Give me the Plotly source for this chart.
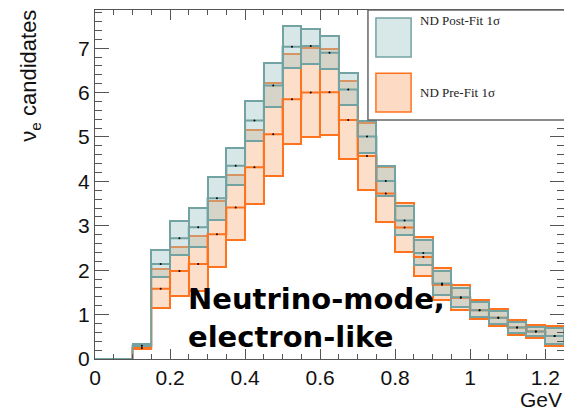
import numpy as np
import plotly.graph_objects as go

bin_lo = [0.00, 0.05, 0.10, 0.15, 0.20, 0.25, 0.30, 0.35, 0.40, 0.45, 0.50, 0.55,
          0.60, 0.65, 0.70, 0.75, 0.80, 0.85, 0.90, 0.95, 1.00, 1.05, 1.10, 1.15, 1.20]
bin_width = 0.05

post_lo = [0, 0, 0.27, 1.85, 2.34, 2.53, 3.13, 3.93, 4.92, 5.67, 6.56, 6.64,
           6.53, 5.72, 4.65, 3.67, 2.80, 2.12, 1.44, 1.18, 0.95, 0.79, 0.59, 0.52, 0.34]
post_c = [0, 0, 0.30, 2.14, 2.72, 2.97, 3.62, 4.35, 5.37, 6.16, 7.03, 7.05,
          6.90, 6.07, 5.01, 4.01, 3.12, 2.39, 1.70, 1.39, 1.10, 0.93, 0.71, 0.62, 0.52]
post_hi = [0, 0, 0.33, 2.45, 3.10, 3.40, 4.11, 4.75, 5.81, 6.66, 7.50, 7.43,
           7.28, 6.43, 5.36, 4.35, 3.45, 2.68, 1.99, 1.59, 1.28, 1.09, 0.84, 0.73, 0.69]

pre_lo = [0, 0, 0.22, 1.15, 1.42, 1.54, 2.08, 2.68, 3.49, 4.13, 4.84, 4.99,
          5.04, 4.50, 3.81, 3.09, 2.42, 1.87, 1.34, 1.10, 0.89, 0.74, 0.54, 0.47, 0.29]
pre_c = [0, 0, 0.25, 1.58, 1.98, 2.14, 2.81, 3.41, 4.32, 5.06, 5.85, 6.00,
         6.01, 5.38, 4.57, 3.73, 2.96, 2.30, 1.67, 1.38, 1.10, 0.93, 0.71, 0.62, 0.52]
pre_hi = [0, 0, 0.28, 2.03, 2.53, 2.77, 3.56, 4.14, 5.16, 6.21, 6.86, 7.00,
          6.98, 6.26, 5.32, 4.33, 3.51, 2.75, 2.04, 1.66, 1.33, 1.13, 0.88, 0.77, 0.74]

x_end = 1.25
x_ticks = [0, 0.2, 0.4, 0.6, 0.8, 1.0, 1.2]
x_tick_text = ["0", "0.2", "0.4", "0.6", "0.8", "1", "1.2"]
y_ticks = [0, 1, 2, 3, 4, 5, 6, 7]

lo = np.array(bin_lo)
centers = lo + bin_width / 2
step_x = list(bin_lo) + [x_end]

TEAL = "rgb(115,162,162)"
ORANGE = "rgb(255,115,30)"

fig = go.Figure()

# Pre-fit boxes
fig.add_trace(go.Bar(
    x=centers, base=pre_lo, y=np.array(pre_hi) - np.array(pre_lo), width=bin_width,
    marker=dict(color="rgba(252,218,195,0.95)",
                line=dict(color=ORANGE, width=2),
                pattern=dict(shape=".", fgcolor="rgba(240,165,120,0.55)",
                             bgcolor="rgba(253,224,204,0.95)", size=2, solidity=0.25)),
    showlegend=False, hoverinfo="skip"))
fig.add_trace(go.Scatter(x=step_x, y=list(pre_c) + [pre_c[-1]], mode="lines",
                         line=dict(color=ORANGE, width=2, shape="hv"),
                         showlegend=False, hoverinfo="skip"))

# Post-fit boxes
fig.add_trace(go.Bar(
    x=centers, base=post_lo, y=np.array(post_hi) - np.array(post_lo), width=bin_width,
    marker=dict(color="rgba(150,190,190,0.35)",
                line=dict(color=TEAL, width=2),
                pattern=dict(shape=".", fgcolor="rgba(110,155,155,0.45)",
                             bgcolor="rgba(165,200,200,0.38)", size=2, solidity=0.25)),
    showlegend=False, hoverinfo="skip"))
fig.add_trace(go.Scatter(x=step_x, y=list(post_c) + [post_c[-1]], mode="lines",
                         line=dict(color=TEAL, width=2, shape="hv"),
                         showlegend=False, hoverinfo="skip"))

# central black points
fig.add_trace(go.Scatter(x=centers[2:], y=post_c[2:], mode="markers",
                         marker=dict(color="black", size=2), showlegend=False, hoverinfo="skip"))
fig.add_trace(go.Scatter(x=centers[2:], y=pre_c[2:], mode="markers",
                         marker=dict(color="black", size=2), showlegend=False, hoverinfo="skip"))

AX = "#555555"
fig.update_layout(
    width=564, height=413,
    margin=dict(l=95, r=0, t=10, b=54),
    paper_bgcolor="white", plot_bgcolor="white",
    barmode="overlay", bargap=0,
    font=dict(family="Liberation Sans", size=21, color="#111"),
    xaxis=dict(range=[0, x_end], tickvals=x_ticks, ticktext=x_tick_text,
               ticks="inside", ticklen=10, tickcolor=AX, showline=True, linecolor=AX,
               linewidth=1, mirror="ticks", showgrid=False, zeroline=False,
               minor=dict(ticks="inside", ticklen=5, dtick=0.05, tickcolor=AX, showgrid=False),
               tickfont=dict(size=21)),
    yaxis=dict(range=[0, 7.86], tickvals=y_ticks,
               ticks="inside", ticklen=14, tickcolor=AX, showline=True, linecolor=AX,
               linewidth=1, mirror="ticks", showgrid=False, zeroline=False,
               minor=dict(ticks="inside", ticklen=7, dtick=0.2, tickcolor=AX, showgrid=False),
               tickfont=dict(size=21)),
)

# legend box
fig.add_shape(type="rect", xref="paper", yref="paper", x0=0.582, x1=1.05, y0=0.685, y1=1.0,
              fillcolor="white", line=dict(color="#666", width=1.5), layer="above")
fig.add_shape(type="rect", xref="paper", yref="paper", x0=0.599, x1=0.674, y0=0.865, y1=0.977,
              fillcolor="rgb(216,232,232)", line=dict(color=TEAL, width=1.5), layer="above")
fig.add_shape(type="rect", xref="paper", yref="paper", x0=0.599, x1=0.674, y0=0.708, y1=0.819,
              fillcolor="rgb(252,218,195)", line=dict(color=ORANGE, width=1.5), layer="above")
fig.add_annotation(xref="paper", yref="paper", x=0.689, y=0.9713, xanchor="left", yanchor="middle",
                   text="ND Post-Fit 1σ", showarrow=False,
                   font=dict(family="Liberation Serif", size=13, color="#222"))
fig.add_annotation(xref="paper", yref="paper", x=0.689, y=0.765, xanchor="left", yanchor="middle",
                   text="ND Pre-Fit 1σ", showarrow=False,
                   font=dict(family="Liberation Serif", size=13, color="#222"))

# axis titles
fig.add_annotation(xref="paper", yref="paper", x=-0.139, y=1.006, xanchor="center", yanchor="top",
                   text="ν<sub>e</sub> candidates", textangle=-90, showarrow=False,
                   font=dict(family="Liberation Sans", size=22, color="#111"))
fig.add_annotation(xref="paper", yref="paper", x=1.0, y=-0.117, xanchor="right", yanchor="middle",
                   text="GeV", showarrow=False,
                   font=dict(family="Liberation Sans", size=21, color="#111"))

# label
fig.add_annotation(xref="paper", yref="paper", x=0.194, y=0.118, xanchor="left", yanchor="middle",
                   text="<b>Neutrino-mode,<br>electron-like</b>", align="left", showarrow=False,
                   font=dict(family="DejaVu Sans", size=29, color="black"))

fig.write_html("out.html")
